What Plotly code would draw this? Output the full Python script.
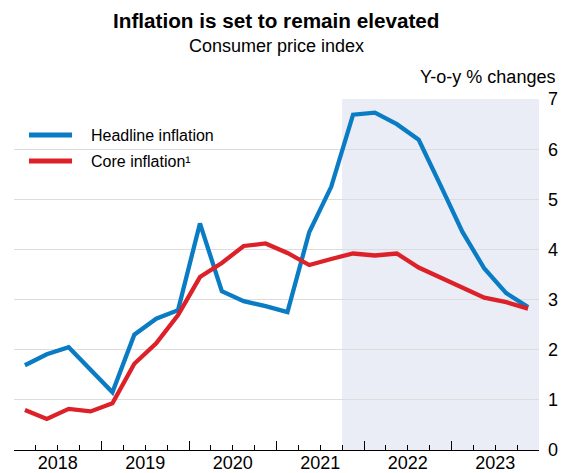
import plotly.graph_objects as go

# Quarterly data 2018Q1 .. 2023Q4
years = [2018, 2019, 2020, 2021, 2022, 2023]
quarters = [f"{y}Q{q}" for y in years for q in range(1, 5)]
headline = [1.69, 1.91, 2.05, 1.60, 1.15, 2.30, 2.62, 2.79, 4.52, 3.17, 2.97, 2.87,
            2.75, 4.35, 5.25, 6.69, 6.73, 6.50, 6.19, 5.28, 4.35, 3.62, 3.13, 2.85]
core = [0.80, 0.62, 0.82, 0.77, 0.93, 1.72, 2.13, 2.69, 3.45, 3.73, 4.07, 4.12,
        3.93, 3.69, 3.81, 3.92, 3.88, 3.92, 3.64, 3.44, 3.24, 3.04, 2.95, 2.82]
series_names = ["Headline inflation", "Core inflation¹"]
projection_start = "2021Q4"
y_ticks = [0, 1, 2, 3, 4, 5, 6, 7]
year_labels = [str(y) for y in years]

def qpos(label):
    y, q = label.split("Q")
    return int(y) + (int(q) - 0.5) / 4

x = [qpos(q) for q in quarters]
proj_x0 = qpos(projection_start) - 0.125

FONT = "Liberation Sans, Arial, sans-serif"
BLUE = "#0a7cc4"
RED = "#dc2128"
COLORS = [BLUE, RED]

# plot-area geometry (pixels)
L, R, T, B = 14, 538.7, 99.3, 450
PW, PH = R - L, B - T

def px(v):
    return (v - L) / PW

def py(v):
    return (B - v) / PH

fig = go.Figure()
for name, vals, col in zip(series_names, [headline, core], COLORS):
    fig.add_trace(go.Scatter(x=x, y=vals, mode="lines", name=name,
                             line=dict(color=col, width=4.3), showlegend=False))
# invisible trace carrying the year-label axis
fig.add_trace(go.Scatter(x=[years[0], years[-1] + 1], y=[0, 0], xaxis="x2",
                         mode="markers", marker=dict(opacity=0), showlegend=False,
                         hoverinfo="skip"))

fig.add_shape(type="rect", xref="x", yref="y", x0=proj_x0, x1=years[-1] + 1,
              y0=y_ticks[0], y1=y_ticks[-1], fillcolor="#eaedf6", line_width=0,
              layer="below")

xrange = [years[0], years[-1] + 1]
fig.update_layout(
    xaxis=dict(range=xrange, tickmode="linear", tick0=years[0], dtick=1,
               ticks="inside", ticklen=9, tickcolor="#000", tickwidth=1,
               showticklabels=False, showline=True, linecolor="#000", linewidth=1,
               showgrid=False, zeroline=False, automargin=False,
               minor=dict(tickmode="linear", tick0=years[0], dtick=0.25, ticks="inside",
                          ticklen=5, tickcolor="#000", tickwidth=1, showgrid=False)),
    xaxis2=dict(range=xrange, overlaying="x", anchor="y", side="bottom",
                tickmode="array", tickvals=[y + 0.5 for y in years], ticktext=year_labels,
                ticks="", showline=False, showgrid=False, zeroline=False,
                automargin=False, ticklabelstandoff=0,
                tickfont=dict(family=FONT, size=18, color="#000")),
    yaxis=dict(range=[y_ticks[0], y_ticks[-1] + 0.002], tickvals=y_ticks, side="right",
               showgrid=True, gridcolor="#dcdcdc", gridwidth=1, zeroline=False,
               ticks="", showline=False, automargin=False, ticklabelstandoff=8,
               tickfont=dict(family=FONT, size=18, color="#000")),
)

annotations = [
    dict(text="<b>Inflation is set to remain elevated</b>", xref="paper", yref="paper",
         x=0.5, y=py(21), xanchor="center", yanchor="middle",
         showarrow=False, font=dict(family=FONT, size=20.7)),
    dict(text="Consumer price index", xref="paper", yref="paper",
         x=0.5, y=py(46), xanchor="center", yanchor="middle",
         showarrow=False, font=dict(family=FONT, size=18)),
    dict(text="Y-o-y % changes", xref="paper", yref="paper",
         x=px(557), y=py(77), xanchor="right", yanchor="middle",
         showarrow=False, font=dict(family=FONT, size=18)),
]
# legend drawn manually
for i, (name, col) in enumerate(zip(series_names, COLORS)):
    yy = 135.3 + i * 26
    fig.add_shape(type="line", xref="paper", yref="paper", x0=px(29), x1=px(72),
                  y0=py(yy), y1=py(yy), line=dict(color=col, width=5))
    annotations.append(dict(text=name, xref="paper", yref="paper", x=px(89), y=py(yy),
                            xanchor="left", yanchor="middle", showarrow=False,
                            font=dict(family=FONT, size=16)))

fig.update_layout(
    width=561, height=473,
    margin=dict(l=L, r=561 - R, t=T, b=473 - B),
    paper_bgcolor="white", plot_bgcolor="white",
    font=dict(family=FONT, color="#000"),
    showlegend=False,
    annotations=annotations,
)

fig.write_html("out.html", config={"displayModeBar": False},
               post_script="document.body.style.margin='0';document.body.style.overflow='hidden';")
